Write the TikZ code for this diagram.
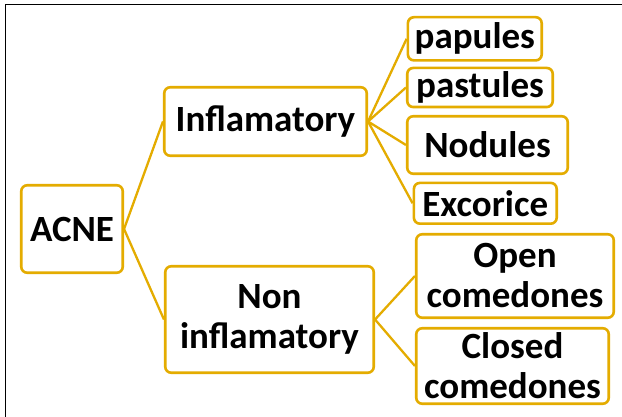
\documentclass[tikz,border=0pt]{standalone}
\usepackage{fontspec}
\setmainfont{Carlito}
\definecolor{gold}{RGB}{228,172,0}
\tikzset{
  box/.style={draw=gold, line width=2.6pt, rounded corners=6pt, fill=white,
    inner sep=0pt, align=center, text=black,
    font=\fontsize{37}{40}\selectfont\bfseries},
  link/.style={draw=gold, line width=2.3pt}
}
\begin{document}
\begin{tikzpicture}[x=1pt,y=-1pt]
\useasboundingbox (0,0) rectangle (622,417);
\fill[white] (0,0) rectangle (622,417);
\draw[line width=1pt] (5.3,417) -- (5.3,4.5) -- (622,4.5);
% nodes
\node[box, minimum width=101.5pt, minimum height=87.5pt] (acne) at (72,229) {ACNE};
\node[box, minimum width=202.5pt, minimum height=68.5pt] (infl) at (265.5,121.5) {Inflamatory};
\node[box, minimum width=208.5pt, minimum height=106.5pt] (non) at (269.5,319.5) {Non\\inflamatory};
\node[box, minimum width=133.8pt, minimum height=43.2pt] (pap) at (474.8,38.8) {papules};
\node[box, minimum width=145.5pt, minimum height=39.1pt] (pas) at (480,87.5) {pastules};
\node[box, minimum width=160.5pt, minimum height=57.5pt] (nod) at (487.5,145) {Nodules};
\node[box, minimum width=142.8pt, minimum height=40.8pt] (exc) at (485.3,203.3) {Excorice};
\node[box, minimum width=197.5pt, minimum height=83.5pt] (open) at (515,276) {Open\\comedones};
\node[box, minimum width=192.5pt, minimum height=75.5pt] (closed) at (512.5,366) {Closed\\comedones};
% connectors
\draw[link] (acne.east) -- (infl.west);
\draw[link] (acne.east) -- (non.west);
\draw[link] (infl.east) -- (pap.west);
\draw[link] (infl.east) -- (pas.west);
\draw[link] (infl.east) -- (nod.west);
\draw[link] (infl.east) -- (exc.west);
\draw[link] (non.east) -- (open.west);
\draw[link] (non.east) -- (closed.west);
\end{tikzpicture}
\end{document}
